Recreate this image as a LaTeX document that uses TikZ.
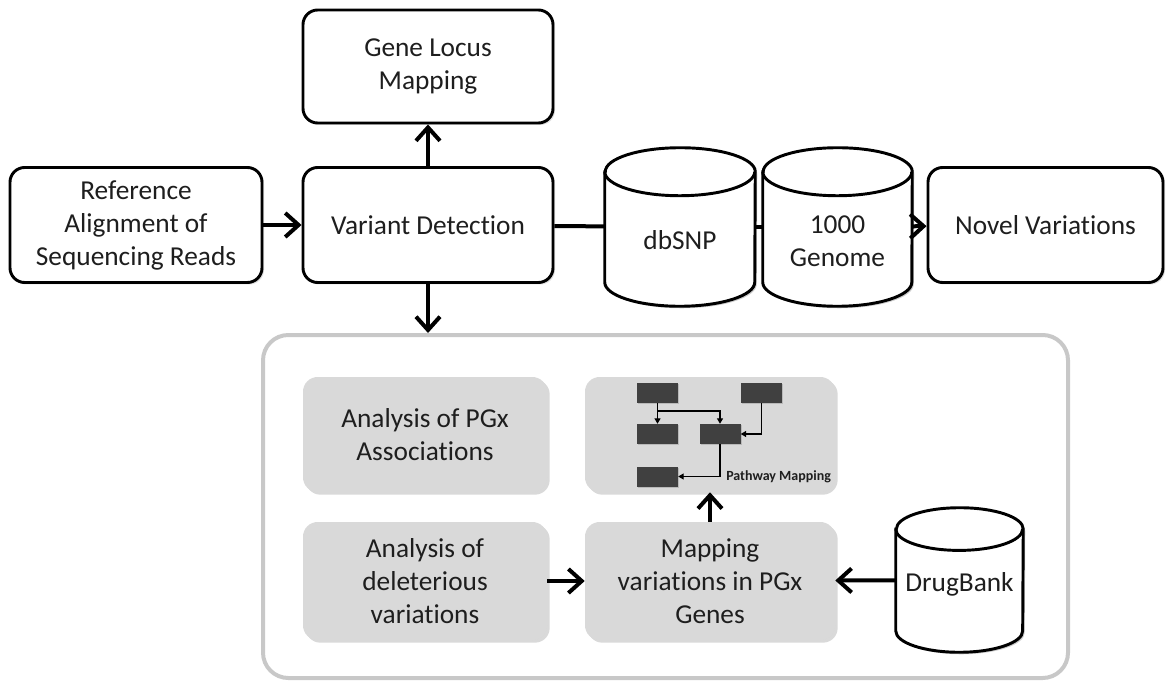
\documentclass[tikz,border=0pt]{standalone}
\usepackage{fontspec}
\setmainfont{Carlito}[Ligatures=NoCommon]
\usepackage{tikz}
\usetikzlibrary{shapes.geometric, arrows.meta, positioning, shadows, backgrounds}
\definecolor{inkgray}{RGB}{30,30,30}
\definecolor{panelgray}{RGB}{217,217,217}
\definecolor{framegray}{RGB}{200,200,200}
\definecolor{chipgray}{RGB}{64,64,64}

% database drum round a named node: #1 node, #2 x radius, #3 y radius
\newcommand{\drum}[3]{%
  \fill[black, opacity=0.2]
    ([xshift=1.5pt, yshift={-1.5pt-#3}]#1.north west) -- ([xshift=1.5pt, yshift={-1.5pt+#3}]#1.south west)
    arc[start angle=180, end angle=360, x radius=#2, y radius=#3]
    -- ([xshift=1.5pt, yshift={-1.5pt-#3}]#1.north east)
    arc[start angle=0, end angle=180, x radius=#2, y radius=#3] -- cycle;
  \draw[drumline, fill=white]
    ([yshift=-#3]#1.north west) -- ([yshift=#3]#1.south west)
    arc[start angle=180, end angle=360, x radius=#2, y radius=#3]
    -- ([yshift=-#3]#1.north east)
    arc[start angle=0, end angle=180, x radius=#2, y radius=#3] -- cycle;
  \draw[drumline] ([yshift=-#3]#1.north west)
    arc[start angle=180, end angle=360, x radius=#2, y radius=#3];
}

\begin{document}
\begin{tikzpicture}[
  x=0.75pt, y=-0.75pt,
  font=\fontsize{20.5}{24.75}\selectfont,
  stepbox/.style={draw=black, line width=2.2pt, rounded corners=11pt, fill=white,
                  align=center, text=inkgray, minimum width=187.5pt, minimum height=86.25pt,
                  drop shadow={shadow xshift=1.5pt, shadow yshift=-1.5pt, opacity=0.25}},
  greybox/.style={draw=none, rounded corners=11pt, fill=panelgray, align=center, text=inkgray,
                  minimum width=183pt, minimum height=86.25pt,
                  drop shadow={shadow xshift=2pt, shadow yshift=-2pt, opacity=0.3}},
  dbase/.style={draw=none, inner sep=0pt},
  dblabel/.style={align=center, text=inkgray, yshift=-10pt},
  drumline/.style={draw=black, line width=2.2pt},
  chip/.style={fill=chipgray, minimum width=30.75pt, minimum height=15pt, inner sep=0pt,
               drop shadow={shadow xshift=1pt, shadow yshift=-1pt, opacity=0.35}},
  arrow/.style={-{Straight Barb[length=10pt, width=18pt]}, line width=3pt, black},
  link/.style={line width=3pt, black},
  thin/.style={-{Triangle[length=4pt, width=4.5pt]}, line width=0.8pt, black}
]
\useasboundingbox (0,0) rectangle (1172,681);

% Top row
\node[stepbox, minimum width=189pt] (align) at (136,225) {Reference\\Alignment of\\Sequencing Reads};
\node[stepbox] (variant) at (428,225) {Variant Detection};
\node[stepbox, minimum height=84.75pt] (locus) at (428,66.5) {Gene Locus\\Mapping};
\node[dbase, minimum width=112.5pt, minimum height=118.5pt,
      label={[dblabel]center:dbSNP}] (dbsnp) at (680,227) {};
\node[dbase, minimum width=111.75pt, minimum height=118.5pt,
      label={[dblabel, yshift=-1pt]center:1000\\Genome}] (genome) at (837.5,227) {};
\node[stepbox, minimum width=176.25pt] (novel) at (1045.5,225) {Novel Variations};

% Lower panel
\node[draw=framegray, line width=3pt, rounded corners=19pt, minimum width=603.75pt,
      minimum height=257.25pt] (panel) at (665.5,506.5) {};
\node[greybox] (assoc) at (425,434.5) {Analysis of PGx\\Associations};
\node[greybox, minimum width=187.5pt] (pathway) at (710,434.5) {};
\node[greybox, minimum height=88.5pt] (delet) at (425,581) {Analysis of\\deleterious\\variations};
\node[greybox, minimum width=187.5pt, minimum height=88.5pt] (mapping) at (710,581) {Mapping\\variations in PGx\\Genes};
\node[dbase, minimum width=95.25pt, minimum height=108pt,
      label={[dblabel, yshift=7pt]center:DrugBank}] (drugbank) at (959.5,580) {};

% Drums
\begin{scope}[on background layer]
\drum{dbsnp}{56.25pt}{18pt}
\drum{genome}{55.9pt}{18pt}
\drum{drugbank}{47.6pt}{16pt}
\end{scope}

% Pathway sketch
\node[chip] (c1) at (657.5,393) {};
\node[chip] (c2) at (761.5,393) {};
\node[chip] (c3) at (657.5,434) {};
\node[chip] (c4) at (720,434) {};
\node[chip] (c5) at (657.5,476.5) {};
\draw[thin] (c1) -- (c3);
\draw[thin] (c1.south |- 0,411) -| (c4.north);
\draw[thin] (c2.south) |- (c4.east);
\draw[thin] (c4.south) |- (c5.east);
\node[font=\fontsize{10.5}{12}\selectfont\bfseries, text=inkgray, anchor=west, inner sep=0pt] (pwlabel) at (726,477) {Pathway Mapping};

% Arrows
\draw[arrow] (align) -- (variant);
\draw[arrow] (variant) -- (locus);
\draw[link] (variant) -- (dbsnp);
\draw[link] (dbsnp) -- (genome);
\draw[arrow] (genome) -- (novel);
\draw[arrow] (variant.south) -- (variant.south |- panel.north);
\draw[arrow] (delet) -- (mapping);
\draw[arrow] (drugbank) -- (mapping);
\draw[arrow] (mapping) -- (pathway);

\end{tikzpicture}
\end{document}
